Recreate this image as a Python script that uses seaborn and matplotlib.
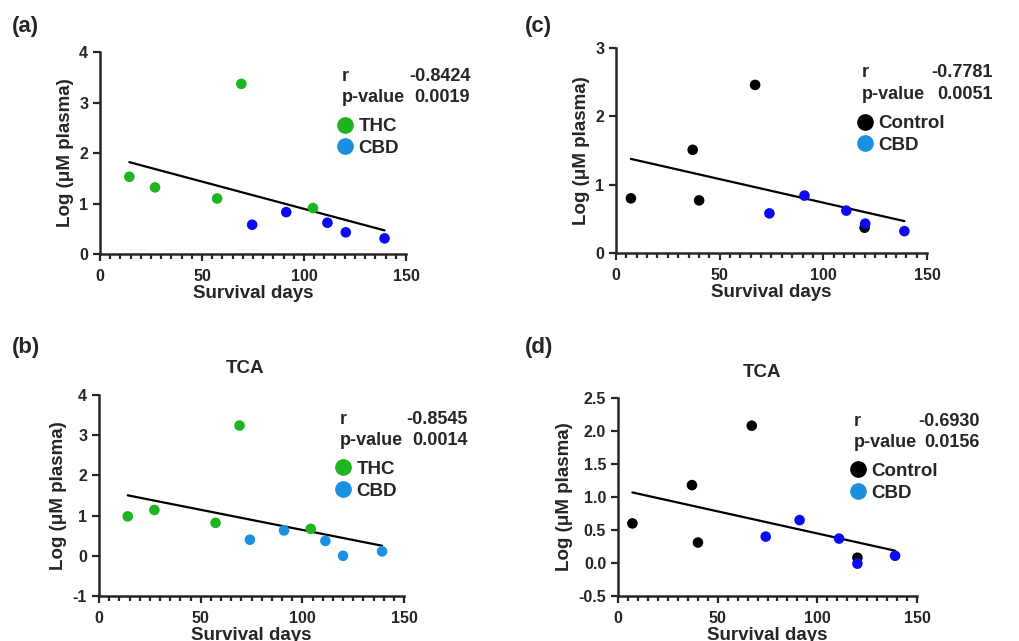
import numpy as np
import pandas as pd
import matplotlib
matplotlib.use("Agg")
import matplotlib.pyplot as plt
import seaborn as sns
from matplotlib.lines import Line2D
from matplotlib.ticker import MultipleLocator, FormatStrFormatter

# ---------------- data ----------------
# panel (a): THC vs CBD
a_thc_days = [14.4, 27.0, 57.4, 69.3, 104.4]
a_thc_log = [1.53, 1.32, 1.10, 3.37, 0.91]
a_cbd_days = [74.6, 91.3, 111.5, 120.5, 139.5]
a_cbd_log = [0.58, 0.83, 0.62, 0.43, 0.31]

# panel (b): THC vs CBD, TCA
b_thc_days = [14.1, 27.2, 57.3, 69.1, 104.1]
b_thc_log = [0.98, 1.14, 0.82, 3.24, 0.67]
b_cbd_days = [74.2, 91.0, 111.3, 120.0, 139.2]
b_cbd_log = [0.40, 0.63, 0.37, 0.00, 0.11]

# panel (c): Control vs CBD
c_ctl_days = [7.2, 37.0, 40.1, 67.1, 119.9]
c_ctl_log = [0.80, 1.51, 0.77, 2.46, 0.37]
c_cbd_days = [74.0, 90.9, 111.1, 120.2, 139.1]
c_cbd_log = [0.58, 0.84, 0.62, 0.43, 0.32]

# panel (d): Control vs CBD, TCA
d_ctl_days = [7.2, 37.1, 40.1, 67.1, 120.1]
d_ctl_log = [0.60, 1.18, 0.31, 2.08, 0.08]
d_cbd_days = [74.1, 91.1, 110.9, 120.1, 139.0]
d_cbd_log = [0.40, 0.65, 0.37, -0.01, 0.11]

r_values = ["-0.8424", "-0.8545", "-0.7781", "-0.6930"]
p_values = ["0.0019", "0.0014", "0.0051", "0.0156"]

GREEN = "#1cb51f"
BLUE = "#0a0af5"
LIGHT_BLUE = "#1a90e0"
BLACK = "#000000"

sns.set_style("ticks")
plt.rcParams["font.family"] = ["Liberation Sans", "DejaVu Sans"]
plt.rcParams["font.weight"] = "bold"

fig = plt.figure(figsize=(10.19, 6.41), dpi=100)

# axes placement (figure fractions)
positions = {
    "a": [0.0981, 0.6037, 0.3003, 0.3151],
    "b": [0.0972, 0.0702, 0.2993, 0.3136],
    "c": [0.6045, 0.6053, 0.3052, 0.3198],
    "d": [0.6065, 0.0702, 0.2934, 0.3089],
}


def panel(key, g1_days, g1_log, g1_name, g1_col, g1_leg,
          g2_days, g2_log, g2_col, ylim, ystep, r, p, title=None, yfmt="%d"):
    ax = fig.add_axes(positions[key])
    df = pd.DataFrame({
        "days": g1_days + g2_days,
        "log": g1_log + g2_log,
        "group": [g1_name] * len(g1_days) + ["CBD"] * len(g2_days),
    })
    sns.regplot(data=df, x="days", y="log", scatter=False, ci=None,
                color="black", line_kws={"lw": 1.6}, ax=ax)
    sns.scatterplot(data=df, x="days", y="log", hue="group",
                    palette={g1_name: g1_col, "CBD": g2_col},
                    s=58, edgecolor="none", legend=False, ax=ax, zorder=3)
    ax.set_xlim(0, 150)
    ax.set_ylim(*ylim)
    ax.xaxis.set_major_locator(MultipleLocator(50))
    ax.xaxis.set_minor_locator(MultipleLocator(5))
    ax.yaxis.set_major_locator(MultipleLocator(ystep))
    ax.yaxis.set_major_formatter(FormatStrFormatter(yfmt))
    ax.tick_params(axis="both", which="major", length=5, width=1.6,
                   labelsize=11.5)
    ax.tick_params(axis="x", which="major", pad=5.5)
    ax.tick_params(axis="x", which="minor", length=3.5, width=1.6)
    for s in ["left", "bottom"]:
        ax.spines[s].set_linewidth(1.8)
    sns.despine(ax=ax)
    for lab in ax.get_xticklabels() + ax.get_yticklabels():
        lab.set_fontweight("bold")
    ax.set_xlabel("Survival days", fontsize=13.5, fontweight="bold", labelpad=1)
    ax.set_ylabel("Log (μM plasma)", fontsize=13.5, fontweight="bold", labelpad=4)

    fs = 13
    ax.text(0.79, 0.88, "r", transform=ax.transAxes, fontsize=fs,
            fontweight="bold", va="center", ha="left")
    ax.text(1.21, 0.88, r, transform=ax.transAxes, fontsize=fs,
            fontweight="bold", va="center", ha="right")
    ax.text(0.79, 0.775, "p-value", transform=ax.transAxes, fontsize=fs,
            fontweight="bold", va="center", ha="left")
    ax.text(1.21, 0.775, p, transform=ax.transAxes, fontsize=fs,
            fontweight="bold", va="center", ha="right")

    handles = [
        Line2D([], [], ls="none", marker="o", ms=11, color=g1_leg, label=g1_name),
        Line2D([], [], ls="none", marker="o", ms=11, color=LIGHT_BLUE, label="CBD"),
    ]
    ax.legend(handles=handles, loc="upper left", bbox_to_anchor=(0.74, 0.71),
              frameon=False, handletextpad=0.1, labelspacing=0.25,
              handlelength=1.2,
              prop={"size": 13.5, "weight": "bold"}, borderaxespad=0)
    if title:
        ax.text(0.48, 1.13, title, transform=ax.transAxes, fontsize=13.5,
                fontweight="bold", ha="center", va="center")
    return ax


panel("a", a_thc_days, a_thc_log, "THC", GREEN, GREEN,
      a_cbd_days, a_cbd_log, BLUE, (0, 4), 1, r_values[0], p_values[0])
panel("b", b_thc_days, b_thc_log, "THC", GREEN, GREEN,
      b_cbd_days, b_cbd_log, LIGHT_BLUE, (-1, 4), 1, r_values[1], p_values[1],
      title="TCA")
panel("c", c_ctl_days, c_ctl_log, "Control", BLACK, BLACK,
      c_cbd_days, c_cbd_log, BLUE, (0, 3), 1, r_values[2], p_values[2])
panel("d", d_ctl_days, d_ctl_log, "Control", BLACK, BLACK,
      d_cbd_days, d_cbd_log, BLUE, (-0.5, 2.5), 0.5, r_values[3], p_values[3],
      title="TCA", yfmt="%.1f")

for lab, x, y in [("(a)", 0.012, 0.958), ("(c)", 0.515, 0.958),
                  ("(b)", 0.012, 0.458), ("(d)", 0.515, 0.458)]:
    fig.text(x, y, lab, fontsize=16, fontweight="bold", ha="left", va="center")

fig.savefig("out.png", dpi=100)
